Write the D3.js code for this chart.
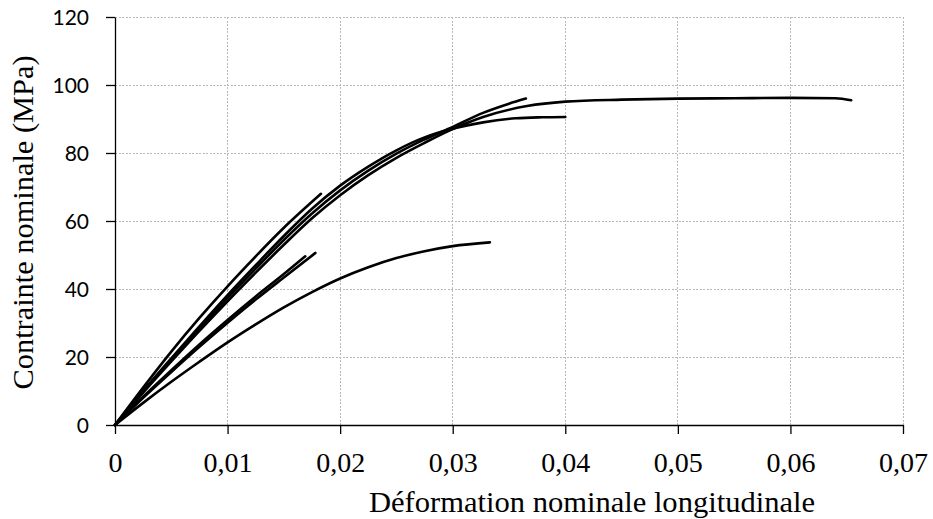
<!DOCTYPE html>
<html>
<head>
<meta charset="utf-8">
<script src="https://cdn.jsdelivr.net/npm/d3@7"></script>
<style>
  html, body { margin: 0; padding: 0; background: #fff; }
  svg { display: block; }
</style>
</head>
<body>
<svg id="chart" width="933" height="519"></svg>
<script>
// ---- Data (strain, stress in MPa) ----
const xTicks = [0, 0.01, 0.02, 0.03, 0.04, 0.05, 0.06, 0.07];
const xTickLabels = ["0", "0,01", "0,02", "0,03", "0,04", "0,05", "0,06", "0,07"];
const yTicks = [0, 20, 40, 60, 80, 100, 120];
const yTickLabels = ["0", "20", "40", "60", "80", "100", "120"];
const xTitle = "Déformation nominale longitudinale";
const yTitle = "Contrainte nominale (MPa)";

const strain1 = [0, 0.0025, 0.005, 0.0075, 0.01, 0.0125, 0.015, 0.0175, 0.02, 0.0225, 0.025, 0.0275, 0.0297, 0.0327, 0.0366, 0.04, 0.045, 0.05, 0.055, 0.06, 0.064, 0.0654];
const stress1 = [0, 9.5, 18.7, 27.7, 36.4, 44.8, 53.0, 60.8, 67.6, 73.5, 78.6, 83.0, 86.6, 90.6, 93.8, 95.1, 95.7, 96.0, 96.1, 96.2, 96.1, 95.5];

const strain2 = [0, 0.0025, 0.005, 0.0075, 0.01, 0.0125, 0.015, 0.0175, 0.02, 0.0225, 0.025, 0.0275, 0.0297, 0.0327, 0.035, 0.0365];
const stress2 = [0, 9.8, 19.2, 28.4, 37.4, 46.0, 54.4, 62.2, 69.0, 74.8, 79.8, 84.0, 87.2, 91.8, 94.5, 96.0];

const strain3 = [0, 0.0025, 0.005, 0.0075, 0.01, 0.0125, 0.015, 0.0175, 0.02, 0.0225, 0.025, 0.0275, 0.0297, 0.0327, 0.0356, 0.038, 0.040];
const stress3 = [0, 10.0, 19.6, 29.0, 38.2, 47.0, 55.6, 63.6, 70.4, 76.0, 80.8, 84.6, 86.9, 89.0, 90.2, 90.5, 90.6];

const strain4 = [0, 0.0025, 0.005, 0.0075, 0.01, 0.0125, 0.015, 0.0183];
const stress4 = [0, 11.0, 21.6, 31.5, 40.8, 49.6, 58.0, 68.0];

const strain5 = [0, 0.0025, 0.005, 0.0075, 0.01, 0.0125, 0.015, 0.0175, 0.02, 0.0225, 0.025, 0.0275, 0.03, 0.0333];
const stress5 = [0, 6.5, 12.7, 18.6, 24.3, 29.6, 34.6, 39.1, 43.1, 46.4, 49.1, 51.1, 52.6, 53.7];

const strain6 = [0, 0.0025, 0.005, 0.0075, 0.01, 0.0125, 0.015, 0.0178];
const stress6 = [0, 8.0, 15.6, 23.0, 30.1, 36.9, 43.4, 50.6];

const strain7 = [0, 0.0025, 0.005, 0.0075, 0.01, 0.0125, 0.015, 0.0169];
const stress7 = [0, 8.3, 16.1, 23.7, 30.9, 37.8, 44.4, 49.6];

const seriesStrain = [strain1, strain2, strain3, strain4, strain5, strain6, strain7];
const seriesStress = [stress1, stress2, stress3, stress4, stress5, stress6, stress7];

// ---- Drawing ----
const svg = d3.select("#chart");
const x = d3.scaleLinear().domain([0, 0.07]).range([115, 903]);
const y = d3.scaleLinear().domain([0, 120]).range([425, 17]);

const serif = "'Liberation Serif', 'Times New Roman', serif";
const sans = "Lato, 'Open Sans', sans-serif";

// gridlines
const grid = svg.append("g");
grid.selectAll("line.h").data(yTicks.filter(d => d > 0)).enter().append("line")
  .attr("x1", x(0)).attr("x2", x(0.07))
  .attr("y1", d => y(d)).attr("y2", d => y(d))
  .attr("stroke", "#b8b8b8").attr("stroke-width", 1).attr("stroke-dasharray", "2,1.5")
  .attr("shape-rendering", "crispEdges");
grid.selectAll("line.v").data(xTicks.filter(d => d > 0)).enter().append("line")
  .attr("y1", y(0)).attr("y2", y(120))
  .attr("x1", d => x(d)).attr("x2", d => x(d))
  .attr("stroke", "#b8b8b8").attr("stroke-width", 1).attr("stroke-dasharray", "2,1.5")
  .attr("shape-rendering", "crispEdges");

// axes
const xAxis = d3.axisBottom(x).tickValues(xTicks).tickSizeInner(9).tickSizeOuter(0)
  .tickFormat((d, i) => xTickLabels[i]);
const gx = svg.append("g").attr("transform", `translate(0,${y(0)})`).call(xAxis);
gx.select(".domain").attr("stroke", "#000").attr("stroke-width", 1.3);
gx.selectAll(".tick line").attr("stroke", "#000").attr("stroke-width", 1.3);
gx.selectAll(".tick text").attr("font-family", serif).attr("font-size", 28)
  .attr("fill", "#000").attr("y", 0).attr("dy", 0)
  .attr("transform", "translate(0,47)");

const yAxis = d3.axisLeft(y).tickValues(yTicks).tickSizeInner(9).tickSizeOuter(0)
  .tickFormat((d, i) => yTickLabels[i]);
const gy = svg.append("g").attr("transform", `translate(${x(0)},0)`).call(yAxis);
gy.select(".domain").attr("stroke", "#000").attr("stroke-width", 1.3);
gy.selectAll(".tick line").attr("stroke", "#000").attr("stroke-width", 1.3);
gy.selectAll(".tick text").attr("font-family", sans).attr("font-size", 21)
  .attr("fill", "#000").attr("x", -26).attr("dy", "0.36em");

// curves
const line = d3.line().x(d => x(d[0])).y(d => y(d[1])).curve(d3.curveMonotoneX);
seriesStrain.forEach((s, i) => {
  const pts = s.map((v, j) => [v, seriesStress[i][j]]);
  svg.append("path").datum(pts).attr("d", line)
    .attr("fill", "none").attr("stroke", "#000").attr("stroke-width", 2.6)
    .attr("stroke-linecap", "round").attr("stroke-linejoin", "round");
});

// titles
svg.append("text").attr("x", 592).attr("y", 512)
  .attr("text-anchor", "middle").attr("font-family", serif).attr("font-size", 29.5)
  .attr("textLength", 446).attr("lengthAdjust", "spacingAndGlyphs")
  .attr("fill", "#000").text(xTitle);
svg.append("text").attr("transform", "translate(33,222.5) rotate(-90)")
  .attr("text-anchor", "middle").attr("font-family", serif).attr("font-size", 29.5)
  .attr("textLength", 334).attr("lengthAdjust", "spacingAndGlyphs")
  .attr("fill", "#000").text(yTitle);
</script>
</body>
</html>
